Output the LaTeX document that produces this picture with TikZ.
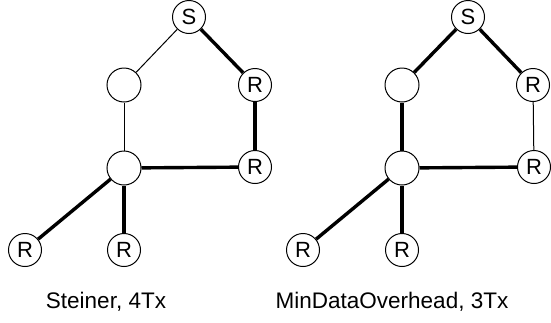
\documentclass[tikz,border=0pt]{standalone}
\usepackage{fontspec}
\setmainfont{Liberation Sans}
\begin{document}
\begin{tikzpicture}[x=1pt,y=-1pt,
  vtx/.style={circle,draw,line width=1pt,inner sep=0pt,minimum size=33pt,font=\fontsize{22}{26}\selectfont},
  blank/.style={circle,draw,line width=1pt,inner sep=0pt,minimum size=34pt},
  thin/.style={line width=1pt},
  thick/.style={line width=3.4pt},
  lab/.style={font=\fontsize{22.5}{27}\selectfont,anchor=base}]
\useasboundingbox (0,0) rectangle (551,322);
% left graph
\node[vtx] (lS) at (189,17) {S};
\node[blank] (lA) at (124,85) {};
\node[vtx] (lR1) at (255,85) {R};
\node[vtx] (lR2) at (255,167) {R};
\node[blank] (lH) at (124,168) {};
\node[vtx] (lB1) at (25,250) {R};
\node[vtx] (lB2) at (124,250) {R};
\draw[thin] (lS) -- (lA);
\draw[thick] (lS) -- (lR1);
\draw[thick] (lR1) -- (lR2);
\draw[thin] (lA) -- (lH);
\draw[thick] (lH) -- (lR2);
\draw[thick] (lH) -- (lB1);
\draw[thick] (lH) -- (lB2);
% right graph
\node[vtx] (rS) at (468,17) {S};
\node[blank] (rA) at (402,85) {};
\node[vtx] (rR1) at (533,85) {R};
\node[vtx] (rR2) at (534,167) {R};
\node[blank] (rH) at (402,168) {};
\node[vtx] (rB1) at (303,250) {R};
\node[vtx] (rB2) at (402,250) {R};
\draw[thick] (rS) -- (rA);
\draw[thick] (rS) -- (rR1);
\draw[thin] (rR1) -- (rR2);
\draw[thick] (rA) -- (rH);
\draw[thick] (rH) -- (rR2);
\draw[thick] (rH) -- (rB1);
\draw[thick] (rH) -- (rB2);
% labels
\node[lab] (lt) at (106,308) {Steiner, 4Tx};
\node[lab] (rt) at (392,308) {MinDataOverhead, 3Tx};
\end{tikzpicture}
\end{document}
